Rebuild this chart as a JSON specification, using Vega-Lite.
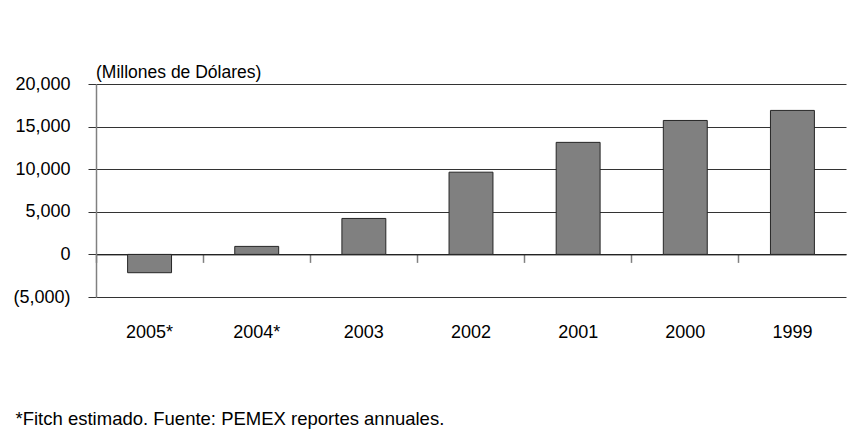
{
  "$schema": "https://vega.github.io/schema/vega-lite/v6.json",
  "width": 750,
  "height": 213,
  "autosize": {"type": "none"},
  "padding": {"left": 96, "top": 84, "right": 22, "bottom": 145},
  "background": "white",
  "config": {
    "view": {"stroke": null},
    "font": "Liberation Sans"
  },
  "title": {
    "text": "(Millones de Dólares)",
    "anchor": "start",
    "frame": "group",
    "orient": "top",
    "offset": -6,
    "font": "Liberation Sans",
    "fontSize": 17.5,
    "fontWeight": "normal",
    "color": "#000000"
  },
  "data": {
    "values": [
      {"year": "2005*", "value": -2150},
      {"year": "2004*", "value": 940},
      {"year": "2003", "value": 4220},
      {"year": "2002", "value": 9650},
      {"year": "2001", "value": 13150},
      {"year": "2000", "value": 15720},
      {"year": "1999", "value": 16900}
    ]
  },
  "mark": {"type": "bar", "fill": "#808080", "stroke": "#262626", "strokeWidth": 1, "width": {"band": 0.41}},
  "encoding": {
    "x": {
      "field": "year",
      "type": "nominal",
      "sort": null,
      "scale": {"paddingInner": 0, "paddingOuter": 0},
      "axis": {
        "offset": -42.6,
        "bandPosition": 0,
        "domain": true,
        "domainColor": "#1a1a1a",
        "domainWidth": 1,
        "ticks": true,
        "tickColor": "#808080",
        "tickSize": 8,
        "tickWidth": 1.5,
        "labelAngle": 0,
        "labelPadding": 61,
        "labelFontSize": 18,
        "labelColor": "#000000",
        "labelFont": "Liberation Sans",
        "title": "*Fitch estimado. Fuente: PEMEX reportes annuales.",
        "titleFont": "Liberation Sans",
        "titleFontSize": 18.5,
        "titleFontWeight": "normal",
        "titleColor": "#000000",
        "titleAnchor": "start",
        "titleAlign": "left",
        "titleBaseline": "alphabetic",
        "titleX": -81,
        "titleY": 170
      }
    },
    "y": {
      "field": "value",
      "type": "quantitative",
      "scale": {"domain": [-5000, 20000], "nice": false, "zero": true},
      "axis": {
        "values": [-5000, 0, 5000, 10000, 15000, 20000],
        "labelExpr": "datum.value < 0 ? '(' + format(-datum.value, ',') + ')' : format(datum.value, ',')",
        "title": null,
        "domain": true,
        "domainColor": "#808080",
        "domainWidth": 1.5,
        "ticks": true,
        "tickColor": "#333333",
        "tickSize": 8,
        "grid": true,
        "gridColor": "#333333",
        "gridWidth": 1,
        "gridOpacity": 1,
        "labelPadding": 18,
        "labelFontSize": 18,
        "labelColor": "#000000",
        "labelFont": "Liberation Sans"
      }
    }
  }
}
